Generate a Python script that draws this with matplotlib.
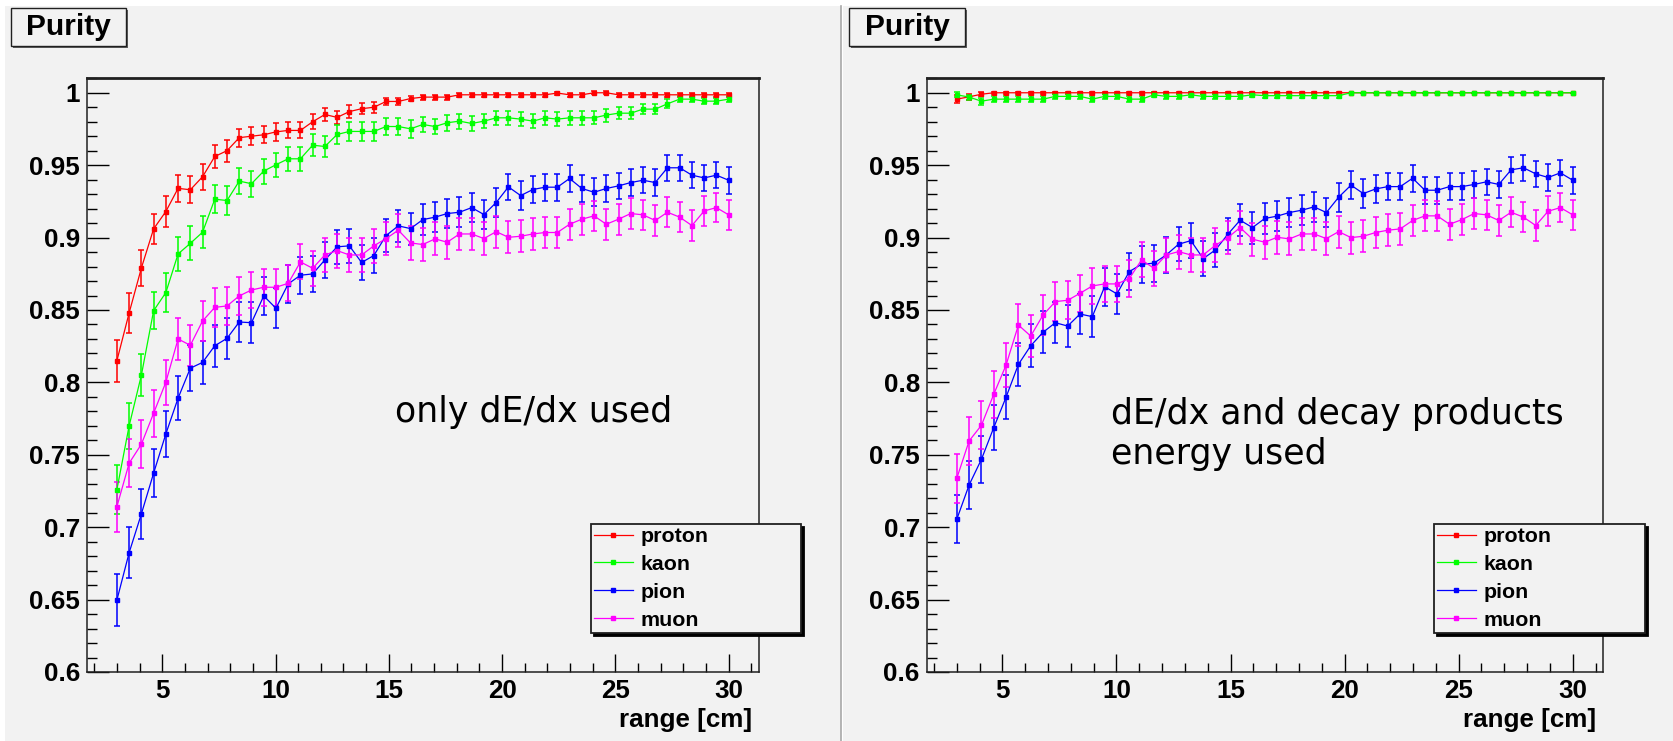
"""Purity vs. range for proton/kaon/pion/muon, two selection variants side by side."""

import matplotlib

matplotlib.use("Agg")

import matplotlib.pyplot as plt
import numpy as np
from matplotlib.patches import Rectangle
from matplotlib.lines import Line2D
from matplotlib.ticker import FuncFormatter, MultipleLocator

W, H, DPI = 1674, 741, 100

# range bins [cm]
x_range = np.linspace(3.0, 30.0, 51)

species = ["proton", "kaon", "pion", "muon"]
colors = ["#ff0000", "#00ff00", "#0000ff", "#ff00ff"]

# ---- left panel: only dE/dx used ----
left_proton = [0.815, 0.848, 0.879, 0.906, 0.918, 0.934, 0.933, 0.942, 0.956, 0.960,
               0.969, 0.970, 0.971, 0.973, 0.974, 0.974, 0.980, 0.985, 0.983, 0.987,
               0.989, 0.990, 0.994, 0.994, 0.996, 0.997, 0.997, 0.997, 0.9986, 0.9986,
               0.9986, 0.9986, 0.9986, 0.9986, 0.9986, 0.9986, 0.9998, 0.9986, 0.9986, 1.000,
               1.000, 0.9986, 0.9986, 0.9986, 0.9986, 0.9986, 0.9986, 0.9986, 0.9986, 0.9986,
               0.9986]
left_proton_err = [0.0144, 0.0136, 0.0122, 0.0106, 0.0104, 0.0095, 0.0094, 0.0088, 0.0078, 0.0075,
                   0.0062, 0.0063, 0.0060, 0.0060, 0.0055, 0.0055, 0.0050, 0.0048, 0.0043, 0.0045,
                   0.0040, 0.0037, 0.0027, 0.0027, 0.0018, 0.0018, 0.0018, 0.0018, 0.0014, 0.0014,
                   0.0014, 0.0014, 0.0014, 0.0014, 0.0014, 0.0014, 0.0010, 0.0014, 0.0014, 0.0010,
                   0.0010, 0.0014, 0.0014, 0.0014, 0.0014, 0.0014, 0.0014, 0.0014, 0.0014, 0.0014,
                   0.0014]
left_kaon = [0.726, 0.770, 0.805, 0.8495, 0.862, 0.8887, 0.896, 0.9037, 0.9265, 0.9256,
             0.939, 0.9372, 0.9459, 0.9503, 0.9544, 0.9544, 0.9638, 0.9629, 0.9712, 0.9733,
             0.9733, 0.9733, 0.9767, 0.9767, 0.9751, 0.9781, 0.9767, 0.9793, 0.9804, 0.9788,
             0.9804, 0.9827, 0.9827, 0.9818, 0.9804, 0.9827, 0.9818, 0.9827, 0.9827, 0.9827,
             0.9846, 0.9859, 0.9859, 0.9887, 0.9887, 0.9924, 0.9956, 0.9956, 0.9942, 0.9942,
             0.9956]
left_kaon_err = [0.0170, 0.0161, 0.0143, 0.0129, 0.0132, 0.0118, 0.0118, 0.0112, 0.0096, 0.0099,
                 0.0090, 0.0090, 0.0086, 0.0083, 0.0082, 0.0082, 0.0074, 0.0074, 0.0066, 0.0066,
                 0.0066, 0.0066, 0.0062, 0.0062, 0.0060, 0.0055, 0.0055, 0.0055, 0.0052, 0.0052,
                 0.0050, 0.0050, 0.0050, 0.0050, 0.0048, 0.0048, 0.0048, 0.0048, 0.0048, 0.0045,
                 0.0045, 0.0042, 0.0042, 0.0035, 0.0035, 0.0030, 0.0022, 0.0022, 0.0022, 0.0022,
                 0.0020]
left_pion = [0.6497, 0.6824, 0.7092, 0.7373, 0.7644, 0.7891, 0.8098, 0.8138, 0.8253, 0.8304,
             0.8417, 0.8412, 0.8597, 0.8512, 0.868, 0.874, 0.8749, 0.8846, 0.8936, 0.8943,
             0.8828, 0.8876, 0.9014, 0.9081, 0.9062, 0.9124, 0.9141, 0.9166, 0.9175, 0.9207,
             0.9159, 0.9242, 0.935, 0.929, 0.9332, 0.9348, 0.9348, 0.9408, 0.9339, 0.9313,
             0.9339, 0.9357, 0.938, 0.9396, 0.938, 0.9482, 0.9482, 0.9431, 0.9412, 0.9431,
             0.9396]
left_pion_err = [0.0180, 0.0174, 0.0173, 0.0165, 0.0160, 0.0154, 0.0157, 0.0148, 0.0145, 0.0143,
                 0.0140, 0.0140, 0.0131, 0.0138, 0.0129, 0.0127, 0.0127, 0.0122, 0.0119, 0.0119,
                 0.0120, 0.0118, 0.0112, 0.0110, 0.0110, 0.0105, 0.0105, 0.0103, 0.0103, 0.0102,
                 0.0102, 0.0100, 0.0092, 0.0098, 0.0095, 0.0094, 0.0094, 0.0092, 0.0094, 0.0096,
                 0.0094, 0.0092, 0.0091, 0.0090, 0.0091, 0.0089, 0.0089, 0.0090, 0.0092, 0.0090,
                 0.0092]
left_muon = [0.7142, 0.7442, 0.7573, 0.7787, 0.8001, 0.830, 0.8256, 0.8424, 0.8518, 0.8528,
             0.8597, 0.8638, 0.8657, 0.8657, 0.8684, 0.8832, 0.8788, 0.888, 0.891, 0.888,
             0.888, 0.8943, 0.8993, 0.9051, 0.8963, 0.8952, 0.8991, 0.8968, 0.9025, 0.9025,
             0.8993, 0.9041, 0.9002, 0.9009, 0.9025, 0.9035, 0.9035, 0.9092, 0.9127, 0.915,
             0.9092, 0.9127, 0.9166, 0.9157, 0.9118, 0.9175, 0.9141, 0.9083, 0.9184, 0.9207,
             0.9157]
left_muon_err = [0.0173, 0.0165, 0.0166, 0.0161, 0.0155, 0.0143, 0.0143, 0.0136, 0.0134, 0.0131,
                 0.0130, 0.0127, 0.0127, 0.0127, 0.0125, 0.0121, 0.0122, 0.0120, 0.0118, 0.0118,
                 0.0118, 0.0116, 0.0115, 0.0113, 0.0115, 0.0115, 0.0114, 0.0114, 0.0112, 0.0112,
                 0.0112, 0.0110, 0.0110, 0.0110, 0.0110, 0.0110, 0.0110, 0.0108, 0.0107, 0.0106,
                 0.0107, 0.0106, 0.0105, 0.0105, 0.0106, 0.0104, 0.0105, 0.0106, 0.0103, 0.0102,
                 0.0103]

# ---- right panel: dE/dx and decay products energy used ----
right_proton = [0.9956, 0.9972, 0.999, 1.0, 1.0, 1.0, 1.0, 1.0, 1.0, 1.0,
                1.0, 1.0, 1.0, 1.0, 1.0, 1.0, 1.0, 1.0, 1.0, 1.0,
                1.0, 1.0, 1.0, 1.0, 1.0, 1.0, 1.0, 1.0, 1.0, 1.0,
                1.0, 1.0, 1.0, 1.0, 1.0, 1.0, 1.0, 1.0, 1.0, 1.0,
                1.0, 1.0, 1.0, 1.0, 1.0, 1.0, 1.0, 1.0, 1.0, 1.0,
                1.0]
right_proton_err = [0.0027, 0.0020, 0.0012, 0.0008, 0.0008, 0.0008, 0.0008, 0.0008, 0.0008, 0.0008,
                    0.0008, 0.0008, 0.0008, 0.0008, 0.0008, 0.0008, 0.0008, 0.0008, 0.0008, 0.0008,
                    0.0008, 0.0008, 0.0008, 0.0008, 0.0008, 0.0008, 0.0008, 0.0008, 0.0008, 0.0008,
                    0.0008, 0.0008, 0.0, 0.0, 0.0, 0.0, 0.0, 0.0, 0.0, 0.0,
                    0.0, 0.0, 0.0, 0.0, 0.0, 0.0, 0.0, 0.0, 0.0, 0.0,
                    0.0]
right_kaon = [0.9986, 0.997, 0.9942, 0.9956, 0.9956, 0.9956, 0.9956, 0.9956, 0.9975, 0.9975,
              0.9975, 0.9956, 0.9975, 0.9975, 0.9956, 0.9956, 0.9986, 0.9975, 0.9975, 0.9986,
              0.9975, 0.9975, 0.9975, 0.9975, 0.9986, 0.998, 0.998, 0.998, 0.998, 0.998,
              0.998, 0.998, 1.0, 1.0, 1.0, 1.0, 1.0, 1.0, 1.0, 1.0,
              1.0, 1.0, 1.0, 1.0, 1.0, 1.0, 1.0, 1.0, 1.0, 1.0,
              1.0]
right_kaon_err = [0.0018, 0.0018, 0.0025, 0.0020, 0.0020, 0.0020, 0.0020, 0.0020, 0.0018, 0.0018,
                  0.0018, 0.0020, 0.0018, 0.0018, 0.0020, 0.0020, 0.0016, 0.0018, 0.0018, 0.0016,
                  0.0018, 0.0018, 0.0018, 0.0018, 0.0016, 0.0016, 0.0016, 0.0016, 0.0016, 0.0016,
                  0.0016, 0.0016, 0.0, 0.0, 0.0, 0.0, 0.0, 0.0, 0.0, 0.0,
                  0.0, 0.0, 0.0, 0.0, 0.0, 0.0, 0.0, 0.0, 0.0, 0.0,
                  0.0]
right_pion = [0.7055, 0.7292, 0.7469, 0.7688, 0.7898, 0.8124, 0.8253, 0.8346, 0.8412, 0.8389,
              0.8472, 0.8454, 0.8661, 0.8611, 0.8765, 0.8816, 0.8823, 0.888, 0.8954, 0.8979,
              0.8855, 0.8915, 0.9023, 0.912, 0.9069, 0.9132, 0.9148, 0.9173, 0.9189, 0.9212,
              0.9173, 0.9279, 0.9362, 0.9304, 0.9336, 0.9352, 0.9352, 0.941, 0.9327, 0.9327,
              0.9352, 0.9352, 0.9367, 0.9385, 0.9367, 0.9468, 0.9482, 0.944, 0.9415, 0.9447,
              0.9396]
right_pion_err = [0.0165, 0.0167, 0.0163, 0.0155, 0.0152, 0.0150, 0.0148, 0.0146, 0.0143, 0.0143,
                  0.0140, 0.0140, 0.0132, 0.0136, 0.0129, 0.0127, 0.0127, 0.0122, 0.0119, 0.0119,
                  0.0120, 0.0118, 0.0112, 0.0110, 0.0110, 0.0105, 0.0105, 0.0103, 0.0103, 0.0102,
                  0.0102, 0.0100, 0.0095, 0.0098, 0.0095, 0.0094, 0.0094, 0.0092, 0.0094, 0.0094,
                  0.0094, 0.0092, 0.0091, 0.0090, 0.0091, 0.0089, 0.0089, 0.0090, 0.0092, 0.0090,
                  0.0092]
right_muon = [0.7338, 0.7596, 0.7704, 0.7918, 0.812, 0.8396, 0.832, 0.8465, 0.8558, 0.8567,
              0.8615, 0.8666, 0.868, 0.868, 0.8717, 0.8846, 0.8788, 0.888, 0.8903, 0.888,
              0.888, 0.8947, 0.900, 0.9069, 0.8989, 0.8968, 0.9002, 0.8991, 0.9025, 0.9025,
              0.8993, 0.9041, 0.900, 0.9009, 0.9035, 0.9051, 0.906, 0.9118, 0.915, 0.915,
              0.9092, 0.9124, 0.9166, 0.9157, 0.9118, 0.9175, 0.9141, 0.9083, 0.9182, 0.9207,
              0.9157]
right_muon_err = [0.0170, 0.0167, 0.0165, 0.0162, 0.0155, 0.0143, 0.0143, 0.0136, 0.0134, 0.0131,
                  0.0130, 0.0127, 0.0127, 0.0127, 0.0125, 0.0121, 0.0122, 0.0120, 0.0118, 0.0118,
                  0.0118, 0.0116, 0.0115, 0.0113, 0.0115, 0.0115, 0.0114, 0.0114, 0.0112, 0.0112,
                  0.0112, 0.0110, 0.0110, 0.0110, 0.0110, 0.0110, 0.0110, 0.0108, 0.0107, 0.0106,
                  0.0107, 0.0106, 0.0105, 0.0105, 0.0106, 0.0104, 0.0105, 0.0106, 0.0103, 0.0102,
                  0.0103]

left_series = [(left_proton, left_proton_err), (left_kaon, left_kaon_err),
               (left_pion, left_pion_err), (left_muon, left_muon_err)]
right_series = [(right_proton, right_proton_err), (right_kaon, right_kaon_err),
                (right_pion, right_pion_err), (right_muon, right_muon_err)]

BG = "#f2f2f2"
BOLD = {"family": ["Liberation Sans", "DejaVu Sans"], "weight": "bold"}


def fx(px):
    return px / W


def fy(py):
    return 1 - py / H


def draw_panel(fig, left_px, right_px, series, note, note_xy, legend_box, title_box):
    ax = fig.add_axes([fx(left_px), fy(672), fx(right_px - left_px), (672 - 78) / H])
    ax.set_facecolor(BG)

    lines = []
    for (vals, errs), color, name in zip(series, colors, species):
        cont = ax.errorbar(x_range, vals, yerr=errs, fmt="-s", color=color, lw=0.9,
                           ms=2.6, elinewidth=1.1, capsize=2.4, capthick=1.1, label=name)
        lines.append(cont.lines[0])

    ax.set_xlim(1.68, 31.34)
    ax.set_ylim(0.6, 1.0102)
    ax.xaxis.set_major_locator(MultipleLocator(5))
    ax.xaxis.set_minor_locator(MultipleLocator(1))
    ax.yaxis.set_major_locator(MultipleLocator(0.05))
    ax.yaxis.set_minor_locator(MultipleLocator(0.01))
    ax.yaxis.set_major_formatter(FuncFormatter(lambda v, _: f"{v:g}"))
    ax.tick_params(axis="x", which="major", direction="in", length=13, width=1, pad=5)
    ax.tick_params(axis="x", which="minor", direction="in", length=6.2, width=1)
    ax.tick_params(axis="y", which="major", direction="in", length=15.6, width=1, pad=5)
    ax.tick_params(axis="y", which="minor", direction="in", length=7.2, width=1)
    for lab in ax.get_xticklabels() + ax.get_yticklabels():
        lab.set_fontproperties({**BOLD, "size": 18.7})
    for name, sp in ax.spines.items():
        sp.set_color("#202020")
        sp.set_linewidth(2 if name == "top" else 1.1)

    fig.text(fx(right_px - 7), fy(726.5), "range [cm]", ha="right", va="baseline",
             fontsize=18.7, **BOLD)

    # baseline of the last line of the note
    fig.text(fx(note_xy[0]), fy(note_xy[1]), note, ha="left", va="baseline",
             fontsize=25, family="DejaVu Sans", linespacing=1.23)

    lx0, ly0, lx1, ly1 = legend_box
    leg = fig.legend(lines, species, loc="upper left",
                     bbox_to_anchor=(fx(lx0), fy(ly1), fx(lx1 - lx0), (ly1 - ly0) / H),
                     mode="expand", borderaxespad=0, prop={**BOLD, "size": 15.4},
                     handlelength=1.8, handletextpad=0.35, borderpad=0.15, labelspacing=0.41,
                     fancybox=False, framealpha=1, facecolor=BG, edgecolor="#202020",
                     shadow={"facecolor": "black", "edgecolor": "black", "alpha": 1})
    leg.get_frame().set_linewidth(1.3)

    bx0, by0, bx1, by1 = title_box
    fig.patches.append(Rectangle((fx(bx0 + 2), fy(by1 + 2)), fx(bx1 - bx0), (by1 - by0) / H,
                                 transform=fig.transFigure, facecolor="#606060",
                                 edgecolor="none", zorder=2))
    fig.patches.append(Rectangle((fx(bx0), fy(by1)), fx(bx1 - bx0), (by1 - by0) / H,
                                 transform=fig.transFigure, facecolor=BG,
                                 edgecolor="#202020", lw=1, zorder=3))
    fig.text(fx((bx0 + bx1) / 2), fy((by0 + by1) / 2), "Purity", ha="center", va="center",
             fontsize=21.5, zorder=4, **BOLD)
    return ax


fig = plt.figure(figsize=(W / DPI, H / DPI), dpi=DPI, facecolor="white")

# canvas backgrounds and the separator between the two pads
fig.patches.append(Rectangle((fx(5), 0), fx(836), (H - 6) / H, transform=fig.transFigure,
                             facecolor=BG, edgecolor="none", zorder=-2))
fig.patches.append(Rectangle((fx(843), 0), fx(W - 843), (H - 6) / H, transform=fig.transFigure,
                             facecolor=BG, edgecolor="none", zorder=-2))
fig.add_artist(Line2D([fx(841), fx(841)], [0, fy(6)], transform=fig.transFigure,
                      color="#a8a8a8", lw=1.2, zorder=-1))

draw_panel(fig, 87, 759, left_series, "only dE/dx used", (395, 421.7),
           (591, 524, 801, 635), (11, 8, 126, 46))
draw_panel(fig, 926.7, 1603.3, right_series, "dE/dx and decay products\nenergy used",
           (1110.7, 464), (1434, 524, 1645, 635), (849, 8, 965, 46))

fig.savefig("out.png", dpi=DPI, facecolor=fig.get_facecolor())
